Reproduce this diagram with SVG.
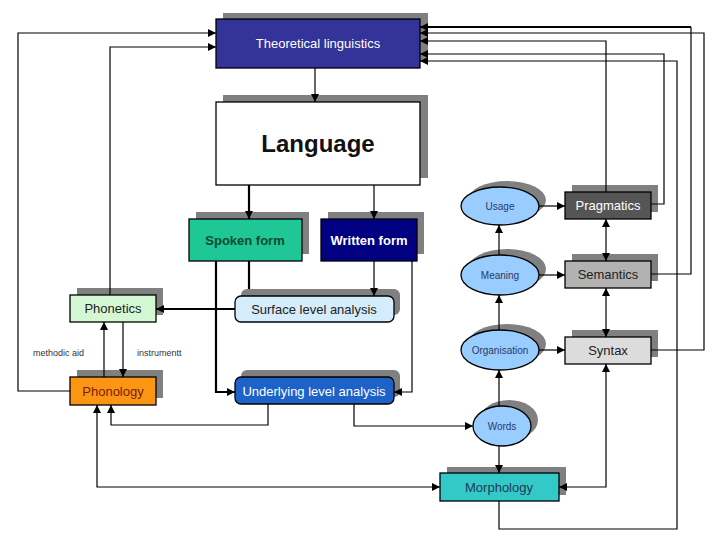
<svg xmlns="http://www.w3.org/2000/svg" width="720" height="540" viewBox="0 0 720 540">
<defs>
<marker id="ah" markerUnits="userSpaceOnUse" markerWidth="9" markerHeight="9" refX="8" refY="4" orient="auto-start-reverse">
<path d="M0,0 L8,4 L0,8 z" fill="#000"/>
</marker>
<style>
.sh{fill:#808080}
.bx{stroke:#000;stroke-width:1.3}
.t{font-family:"Liberation Sans",Arial,sans-serif;font-size:13px;text-anchor:middle;dominant-baseline:central}
.tb{font-weight:bold}
.big{font-size:24px}
.e{font-size:10px;fill:#2a3a66}
.c{fill:none;stroke:#000;stroke-width:1.2}
.a{marker-end:url(#ah)}
.b{marker-start:url(#ah);marker-end:url(#ah)}
.k{stroke-width:2.2}
.lab{font-family:"Liberation Sans",Arial,sans-serif;font-size:9px;fill:#333}
</style>
</defs>
<rect width="720" height="540" fill="#fff"/>
<g id="theoretical">
<rect class="sh" x="223" y="13" width="205" height="49"/>
<rect class="bx" x="216" y="19" width="204" height="49" fill="#333399"/>
<text class="t" x="318" y="43" fill="#fff">Theoretical linguistics</text>
</g>
<g id="language">
<rect class="sh" x="223" y="95" width="205" height="83"/>
<rect class="bx" x="216" y="102" width="204" height="83" fill="#fff"/>
<text class="t tb big" x="318" y="143" fill="#111">Language</text>
</g>
<g id="spoken">
<rect class="sh" x="196" y="212" width="113" height="42"/>
<rect class="bx" x="189" y="219" width="113" height="42" fill="#1fc796"/>
<text class="t tb" x="245" y="240" fill="#0b4a2e">Spoken form</text>
</g>
<g id="written">
<rect class="sh" x="328" y="212" width="96" height="42"/>
<rect class="bx" x="321" y="219" width="96" height="42" fill="#000080"/>
<text class="t tb" x="369" y="240" fill="#fff">Written form</text>
</g>
<g id="surface">
<rect class="sh" x="241" y="289" width="159" height="26" rx="6"/>
<rect class="bx" x="235" y="296" width="159" height="26" rx="6" fill="#d4ecfb"/>
<text class="t" x="314" y="309" fill="#222">Surface level analysis</text>
</g>
<g id="underlying">
<rect class="sh" x="241" y="370" width="159" height="27" rx="6"/>
<rect class="bx" x="235" y="377" width="159" height="27" rx="6" fill="#1d62c9"/>
<text class="t" x="314" y="391" fill="#fff">Underlying level analysis</text>
</g>
<g id="phonetics">
<rect class="sh" x="77" y="288" width="86" height="27"/>
<rect class="bx" x="70" y="295" width="86" height="27" fill="#d4f8d4"/>
<text class="t" x="113" y="308" fill="#222">Phonetics</text>
</g>
<g id="phonology">
<rect class="sh" x="77" y="370" width="86" height="28"/>
<rect class="bx" x="70" y="377" width="86" height="28" fill="#fb9614"/>
<text class="t" x="113" y="391" fill="#7a2000">Phonology</text>
</g>
<g id="labels">
<text class="lab" x="33" y="356">methodic aid</text>
<text class="lab" x="137" y="356">instrumentt</text>
</g>
<g id="usage">
<ellipse class="sh" cx="507" cy="200" rx="39" ry="19"/>
<ellipse class="bx" cx="500" cy="206" rx="39" ry="19" fill="#99ccff"/>
<text class="t e" x="500" y="206">Usage</text>
</g>
<g id="meaning">
<ellipse class="sh" cx="507" cy="269" rx="39" ry="20"/>
<ellipse class="bx" cx="500" cy="275" rx="39" ry="20" fill="#99ccff"/>
<text class="t e" x="500" y="275">Meaning</text>
</g>
<g id="organisation">
<ellipse class="sh" cx="507" cy="344" rx="39" ry="20"/>
<ellipse class="bx" cx="500" cy="350" rx="39" ry="20" fill="#99ccff"/>
<text class="t e" x="500" y="350">Organisation</text>
</g>
<g id="words">
<ellipse class="sh" cx="509" cy="420" rx="29" ry="20"/>
<ellipse class="bx" cx="502" cy="426" rx="29" ry="20" fill="#99ccff"/>
<text class="t e" x="502" y="426">Words</text>
</g>
<g id="pragmatics">
<rect class="sh" x="572" y="185" width="86" height="27"/>
<rect class="bx" x="565" y="192" width="86" height="27" fill="#555"/>
<text class="t" x="608" y="205" fill="#fff">Pragmatics</text>
</g>
<g id="semantics">
<rect class="sh" x="572" y="254" width="86" height="27"/>
<rect class="bx" x="565" y="261" width="86" height="27" fill="#b2b2b2"/>
<text class="t" x="608" y="274" fill="#222">Semantics</text>
</g>
<g id="syntax">
<rect class="sh" x="572" y="330" width="86" height="27"/>
<rect class="bx" x="565" y="337" width="86" height="27" fill="#dcdcdc"/>
<text class="t" x="608" y="350" fill="#222">Syntax</text>
</g>
<g id="morphology">
<rect class="sh" x="447" y="467" width="119" height="28"/>
<rect class="bx" x="440" y="473" width="119" height="28" fill="#33c9c9"/>
<text class="t" x="499" y="487" fill="#1f3a55">Morphology</text>
</g>
<g id="connectors">
<path class="c a" d="M315,68 V102"/>
<path class="c a k" d="M249,185 V219"/>
<path class="c a" d="M374,185 V219"/>
<path class="c a k" d="M216,261 V392 H235"/>
<path class="c k" d="M249,261 V289"/>
<path class="c a" d="M374,261 V296"/>
<path class="c a" d="M412,261 V392 H394"/>
<path class="c a k" d="M235,309 H156"/>
<path class="c a" d="M104,377 V322"/>
<path class="c a" d="M123,322 V377"/>
<path class="c a" d="M110,295 V47 H216"/>
<path class="c a" d="M70,391 H18 V33 H216"/>
<path class="c a" d="M268,404 V425 H111 V405"/>
<path class="c a" d="M354,404 V426 H473"/>
<path class="c b" d="M97,405 V487 H440"/>
<path class="c a" d="M499,446 V473"/>
<path class="c a" d="M499,406 V370"/>
<path class="c a" d="M499,330 V295"/>
<path class="c a" d="M499,255 V225"/>
<path class="c a" d="M539,206 H565"/>
<path class="c a" d="M539,275 H565"/>
<path class="c a" d="M539,350 H565"/>
<path class="c b" d="M606,219 V261"/>
<path class="c b" d="M606,288 V337"/>
<path class="c b" d="M606,364 V487 H559"/>
<path class="c a" d="M606,192 V41 H420"/>
<path class="c a" d="M651,204 H664 V54 H420"/>
<path class="c" d="M651,274 H691 V27"/>
<path class="c a k" d="M691,27 H420"/>
<path class="c a" d="M651,350 H704 V33 H420"/>
<path class="c a" d="M499,501 V529 H677 V61 H420"/>
</g>
</svg>
